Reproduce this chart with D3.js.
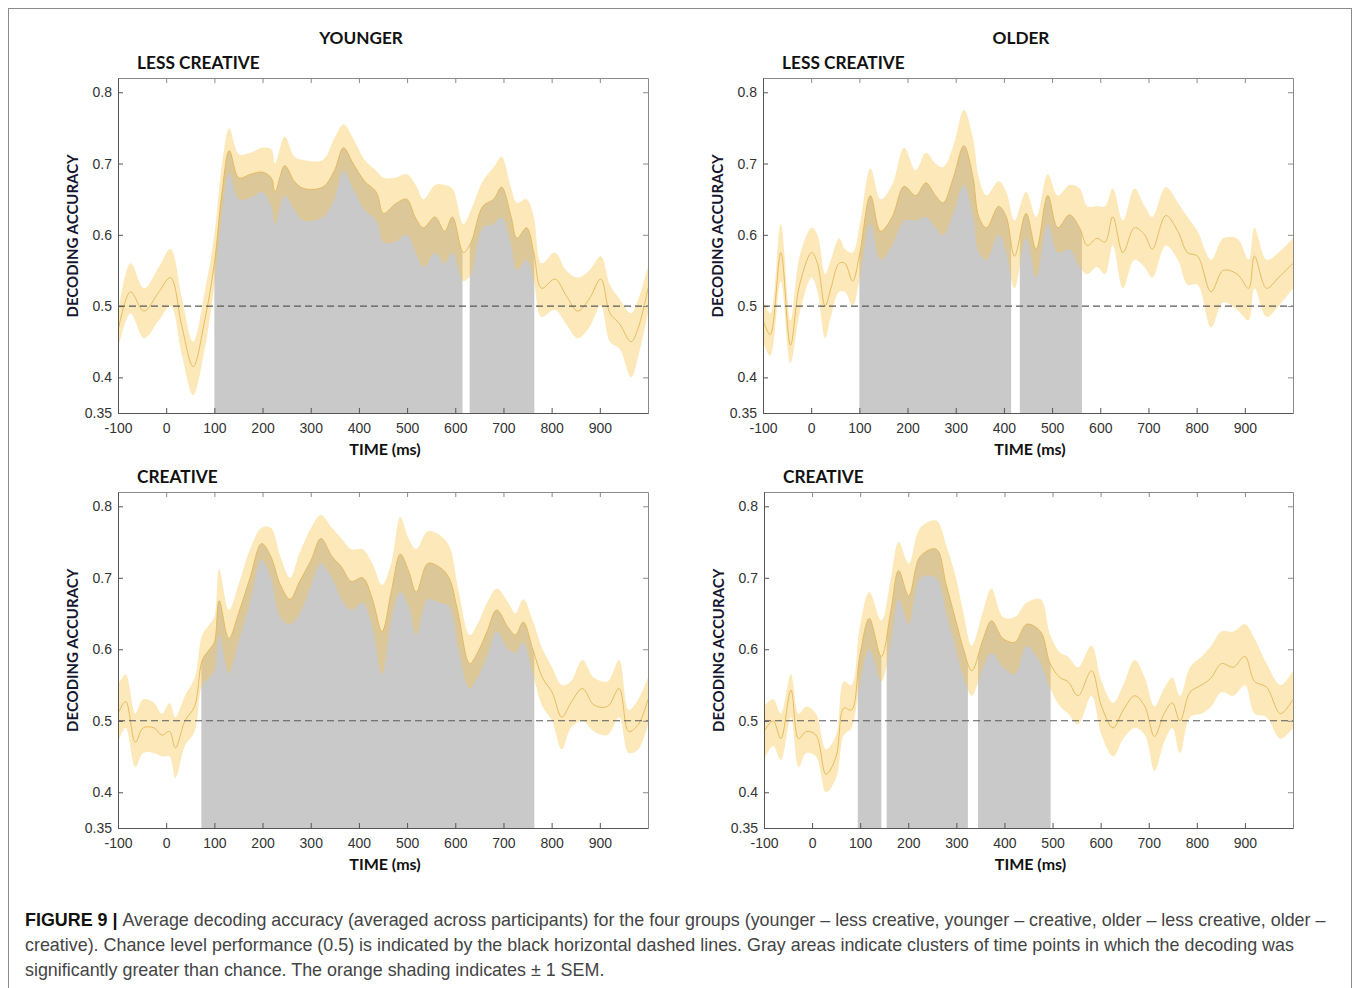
<!DOCTYPE html>
<html>
<head>
<meta charset="utf-8">
<script src="https://cdn.jsdelivr.net/npm/d3@7"></script>
<style>
  body { margin: 0; background: #fff; }
  text { font-family: "Liberation Sans", Arial, sans-serif; }
</style>
</head>
<body>
<script>
// each row: [time (ms), mean accuracy, mean - 1 SEM, mean + 1 SEM]
const youngLess = [
  [-100,0.465,0.44,0.49],[-74,0.52,0.49,0.56],[-46,0.493,0.455,0.525],[-15,0.52,0.48,0.555],
  [9,0.54,0.50,0.58],[33,0.47,0.43,0.51],[56,0.415,0.375,0.45],[80,0.48,0.44,0.52],
  [100,0.56,0.53,0.60],[116,0.66,0.63,0.70],[131,0.718,0.686,0.749],[151,0.68,0.65,0.713],
  [175,0.685,0.652,0.715],[199,0.688,0.66,0.722],[218,0.68,0.64,0.72],[226,0.66,0.615,0.70],
  [246,0.697,0.655,0.738],[266,0.675,0.635,0.71],[285,0.665,0.62,0.705],[325,0.667,0.625,0.705],
  [349,0.69,0.65,0.735],[368,0.722,0.69,0.755],[388,0.70,0.665,0.735],[412,0.675,0.635,0.705],
  [436,0.66,0.62,0.69],[451,0.63,0.59,0.68],[475,0.643,0.59,0.68],[499,0.65,0.60,0.685],
  [518,0.623,0.575,0.67],[534,0.61,0.555,0.65],[558,0.625,0.575,0.67],[578,0.605,0.56,0.67],
  [594,0.625,0.575,0.665],[617,0.575,0.535,0.615],[633,0.59,0.545,0.635],[657,0.64,0.61,0.675],
  [680,0.65,0.615,0.695],[696,0.667,0.625,0.71],[716,0.625,0.585,0.665],[728,0.595,0.55,0.645],
  [748,0.61,0.565,0.65],[763,0.575,0.535,0.625],[779,0.525,0.485,0.56],[807,0.538,0.495,0.575],
  [830,0.515,0.475,0.55],[854,0.493,0.455,0.54],[878,0.51,0.47,0.55],[902,0.538,0.50,0.57],
  [921,0.49,0.45,0.53],[941,0.475,0.44,0.51],[965,0.45,0.40,0.49],[980,0.47,0.43,0.51],
  [1000,0.525,0.49,0.555]
];
const oldLess = [
  [-100,0.48,0.45,0.51],[-85,0.46,0.43,0.49],[-63,0.575,0.535,0.615],[-43,0.445,0.42,0.48],
  [-24,0.53,0.49,0.57],[1,0.575,0.54,0.61],[13,0.56,0.52,0.60],[29,0.50,0.455,0.545],
  [41,0.525,0.485,0.565],[58,0.56,0.52,0.595],[70,0.56,0.52,0.58],[86,0.535,0.50,0.575],
  [101,0.575,0.54,0.615],[123,0.655,0.615,0.693],[144,0.605,0.565,0.65],[168,0.625,0.585,0.67],
  [193,0.668,0.62,0.722],[217,0.655,0.62,0.69],[238,0.673,0.625,0.715],[258,0.655,0.61,0.70],
  [274,0.645,0.60,0.695],[295,0.68,0.63,0.725],[317,0.725,0.67,0.775],[336,0.68,0.625,0.735],
  [348,0.625,0.575,0.68],[364,0.61,0.565,0.655],[389,0.64,0.60,0.675],[405,0.625,0.575,0.66],
  [422,0.57,0.525,0.62],[446,0.63,0.595,0.66],[467,0.58,0.54,0.625],[491,0.655,0.615,0.685],
  [512,0.61,0.575,0.655],[536,0.628,0.58,0.67],[557,0.61,0.555,0.665],[573,0.585,0.545,0.64],
  [593,0.595,0.555,0.64],[610,0.59,0.545,0.64],[626,0.625,0.585,0.665],[647,0.575,0.525,0.62],
  [671,0.61,0.565,0.665],[692,0.60,0.555,0.64],[708,0.58,0.54,0.625],[736,0.627,0.585,0.667],
  [761,0.605,0.565,0.645],[781,0.575,0.53,0.625],[802,0.57,0.53,0.605],[830,0.52,0.47,0.565],
  [855,0.55,0.505,0.595],[884,0.545,0.495,0.595],[908,0.525,0.48,0.565],[920,0.57,0.525,0.61],
  [945,0.525,0.485,0.565],[970,0.54,0.50,0.575],[1000,0.56,0.525,0.595]
];
const youngCreative = [
  [-100,0.51,0.47,0.55],[-84,0.527,0.49,0.565],[-64,0.47,0.435,0.51],[-48,0.49,0.455,0.53],
  [-25,0.49,0.455,0.525],[-9,0.48,0.45,0.51],[7,0.485,0.45,0.525],[19,0.462,0.42,0.505],
  [39,0.50,0.465,0.535],[59,0.52,0.485,0.56],[75,0.585,0.55,0.62],[90,0.60,0.56,0.635],
  [100,0.61,0.57,0.645],[110,0.668,0.62,0.712],[130,0.615,0.567,0.655],[150,0.65,0.61,0.69],
  [174,0.70,0.665,0.74],[198,0.748,0.725,0.77],[217,0.73,0.70,0.77],[237,0.69,0.645,0.73],
  [257,0.67,0.635,0.70],[277,0.695,0.65,0.735],[301,0.725,0.69,0.77],[321,0.755,0.72,0.788],
  [344,0.73,0.70,0.77],[364,0.715,0.67,0.755],[384,0.695,0.655,0.74],[408,0.70,0.665,0.74],
  [428,0.67,0.63,0.72],[448,0.625,0.565,0.69],[467,0.68,0.64,0.72],[486,0.733,0.68,0.785],
  [503,0.71,0.66,0.755],[519,0.68,0.62,0.74],[543,0.72,0.67,0.765],[567,0.715,0.665,0.76],
  [587,0.70,0.66,0.745],[606,0.65,0.60,0.685],[630,0.58,0.545,0.62],[646,0.595,0.56,0.635],
  [666,0.625,0.59,0.665],[686,0.655,0.625,0.685],[710,0.63,0.60,0.665],[725,0.62,0.595,0.65],
  [741,0.638,0.61,0.67],[761,0.60,0.565,0.64],[781,0.56,0.52,0.60],[801,0.54,0.50,0.575],
  [821,0.505,0.46,0.55],[840,0.525,0.49,0.555],[864,0.545,0.50,0.585],[888,0.522,0.485,0.56],
  [916,0.52,0.48,0.555],[940,0.545,0.505,0.585],[960,0.485,0.455,0.515],[980,0.495,0.46,0.53],
  [1000,0.53,0.495,0.56]
];
const oldCreative = [
  [-100,0.485,0.445,0.52],[-81,0.50,0.465,0.53],[-65,0.475,0.445,0.51],[-44,0.543,0.505,0.565],
  [-28,0.475,0.435,0.51],[-12,0.485,0.455,0.52],[8,0.48,0.45,0.51],[29,0.425,0.40,0.46],
  [50,0.45,0.42,0.48],[66,0.518,0.48,0.555],[82,0.515,0.49,0.55],[99,0.59,0.55,0.63],
  [119,0.643,0.60,0.68],[144,0.59,0.555,0.64],[164,0.655,0.61,0.70],[180,0.71,0.67,0.75],
  [201,0.675,0.635,0.72],[225,0.73,0.70,0.77],[258,0.74,0.70,0.78],[279,0.69,0.65,0.745],
  [299,0.64,0.60,0.70],[315,0.60,0.56,0.65],[332,0.57,0.535,0.605],[356,0.615,0.575,0.655],
  [373,0.64,0.595,0.685],[397,0.615,0.575,0.645],[422,0.61,0.565,0.645],[446,0.635,0.605,0.665],
  [475,0.625,0.58,0.67],[495,0.58,0.545,0.62],[516,0.56,0.52,0.595],[532,0.555,0.51,0.59],
  [553,0.535,0.495,0.575],[581,0.57,0.535,0.605],[602,0.52,0.48,0.555],[626,0.49,0.45,0.525],
  [647,0.515,0.475,0.55],[671,0.535,0.49,0.585],[692,0.52,0.48,0.56],[712,0.478,0.43,0.52],
  [732,0.51,0.47,0.545],[749,0.525,0.49,0.56],[765,0.50,0.455,0.535],[786,0.54,0.505,0.575],
  [810,0.55,0.51,0.59],[830,0.56,0.52,0.605],[851,0.58,0.54,0.625],[876,0.575,0.535,0.625],
  [900,0.59,0.55,0.635],[920,0.555,0.51,0.615],[945,0.547,0.505,0.58],[974,0.51,0.475,0.55],
  [1000,0.53,0.49,0.57]
];

// significant clusters [start, end] in ms
const youngLessClusters = [[100, 615], [630, 764]];
const oldLessClusters = [[100, 415], [433, 562]];
const youngCreativeClusters = [[73, 764]];
const oldCreativeClusters = [[95, 144], [155, 324], [345, 496]];

const xTicks = [-100, 0, 100, 200, 300, 400, 500, 600, 700, 800, 900];
const yTicks = [0.35, 0.4, 0.5, 0.6, 0.7, 0.8];
const chance = 0.5;

const width = 1357, height = 988;

const svg = d3.select("body").append("svg")
    .attr("width", width)
    .attr("height", height);

// outer figure border
svg.append("rect")
    .attr("x", 8.5).attr("y", 8.5)
    .attr("width", 1343).attr("height", 1000)
    .attr("fill", "none")
    .attr("stroke", "#8c8c8c");

const panels = [
  {data: youngLess, clusters: youngLessClusters, title: "LESS CREATIVE", x0: 118, x1: 648, y0: 78, y1: 413},
  {data: oldLess, clusters: oldLessClusters, title: "LESS CREATIVE", x0: 763, x1: 1293, y0: 78, y1: 413},
  {data: youngCreative, clusters: youngCreativeClusters, title: "CREATIVE", x0: 118, x1: 648, y0: 492, y1: 828},
  {data: oldCreative, clusters: oldCreativeClusters, title: "CREATIVE", x0: 764, x1: 1293, y0: 492, y1: 828}
];

const boldFont = "Lato, 'Open Sans', sans-serif";

function drawPanel(p, i) {
  const x = d3.scaleLinear().domain([-100, 1000]).range([p.x0, p.x1]);
  const y = d3.scaleLinear().domain([0.35, 0.82]).range([p.y1, p.y0]);
  const g = svg.append("g");

  const defs = svg.append("defs");
  defs.append("clipPath").attr("id", "plot" + i)
    .append("rect")
    .attr("x", p.x0).attr("y", p.y0)
    .attr("width", p.x1 - p.x0).attr("height", p.y1 - p.y0);
  const cc = defs.append("clipPath").attr("id", "clu" + i);
  cc.selectAll("rect").data(p.clusters).join("rect")
    .attr("x", d => x(d[0]))
    .attr("width", d => x(d[1]) - x(d[0]))
    .attr("y", p.y0).attr("height", p.y1 - p.y0);

  const curve = d3.curveCatmullRom.alpha(0.5);

  // gray cluster areas, up to the mean
  g.append("path")
    .datum(p.data)
    .attr("clip-path", `url(#clu${i})`)
    .attr("fill", "#c9c9c9")
    .attr("d", d3.area().curve(curve)
      .x(d => x(d[0])).y0(y(0.35)).y1(d => y(d[1])));

  const inner = g.append("g").attr("clip-path", `url(#plot${i})`);

  // SEM band
  inner.append("path")
    .datum(p.data)
    .attr("fill", "rgb(248,197,80)")
    .attr("fill-opacity", 0.4)
    .attr("d", d3.area().curve(curve)
      .x(d => x(d[0])).y0(d => y(d[2])).y1(d => y(d[3])));

  // mean
  inner.append("path")
    .datum(p.data)
    .attr("fill", "none")
    .attr("stroke", "#e4b756")
    .attr("stroke-width", 0.9)
    .attr("d", d3.line().curve(curve).x(d => x(d[0])).y(d => y(d[1])));

  // chance level
  g.append("line")
    .attr("x1", p.x0).attr("x2", p.x1)
    .attr("y1", y(chance)).attr("y2", y(chance))
    .attr("stroke", "#5a5a5a")
    .attr("stroke-width", 1.2)
    .attr("stroke-dasharray", "7,4");

  // axes (ticks inward like matlab)
  const axStyle = (sel, col) => {
    sel.select(".domain").attr("stroke", col);
    sel.selectAll(".tick line").attr("stroke", col);
    sel.selectAll("text")
      .attr("fill", "#333")
      .style("font-size", "14px")
      .style("font-family", "'Liberation Sans', Arial, sans-serif");
  };

  g.append("g")
    .attr("transform", `translate(0,${p.y0})`)
    .call(d3.axisTop(x).tickValues(xTicks).tickSize(-5).tickSizeOuter(0).tickFormat(""))
    .call(s => axStyle(s, "#8a8a8a"));
  g.append("g")
    .attr("transform", `translate(${p.x1},0)`)
    .call(d3.axisRight(y).tickValues(yTicks.slice(1)).tickSize(-5).tickSizeOuter(0).tickFormat(""))
    .call(s => axStyle(s, "#8a8a8a"));
  g.append("g")
    .attr("transform", `translate(0,${p.y1})`)
    .call(d3.axisBottom(x).tickValues(xTicks).tickSize(-5).tickSizeOuter(0).tickPadding(10)
      .tickFormat(d => String(d)))
    .call(s => axStyle(s, "#555"));
  g.append("g")
    .attr("transform", `translate(${p.x0},0)`)
    .call(d3.axisLeft(y).tickValues(yTicks).tickSize(-5).tickSizeOuter(0).tickPadding(6)
      .tickFormat(d => String(d)))
    .call(s => axStyle(s, "#555"));

  // labels
  g.append("text")
    .attr("x", p.x0 + 19).attr("y", p.y0 - 9)
    .style("font-family", boldFont)
    .style("font-weight", "bold").style("font-size", "17.3px")
    .attr("fill", "#111")
    .text(p.title);

  g.append("text")
    .attr("x", (p.x0 + p.x1) / 2 + 2).attr("y", p.y1 + 42)
    .attr("text-anchor", "middle")
    .style("font-family", boldFont)
    .style("font-weight", "bold").style("font-size", "16px")
    .attr("fill", "#111")
    .text("TIME (ms)");

  g.append("text")
    .attr("transform", `translate(${p.x0 - 40},${y(0.6) + 1}) rotate(-90)`)
    .attr("text-anchor", "middle")
    .style("font-family", boldFont)
    .style("font-weight", "bold").style("font-size", "15px")
    .attr("fill", "#161630")
    .text("DECODING ACCURACY");
}

panels.forEach(drawPanel);

// column headers
[["YOUNGER", 361], ["OLDER", 1021]].forEach(([t, cx]) => {
  svg.append("text")
    .attr("x", cx).attr("y", 44)
    .attr("text-anchor", "middle")
    .style("font-family", boldFont)
    .style("font-weight", "bold").style("font-size", "17.2px")
    .attr("fill", "#111")
    .text(t);
});

// caption
const capLines = [
  [["FIGURE 9 | ", true], ["Average decoding accuracy (averaged across participants) for the four groups (younger \u2013 less creative, younger \u2013 creative, older \u2013 less creative, older \u2013", false]],
  [["creative). Chance level performance (0.5) is indicated by the black horizontal dashed lines. Gray areas indicate clusters of time points in which the decoding was", false]],
  [["significantly greater than chance. The orange shading indicates \u00b1 1 SEM.", false]]
];
const cap = svg.append("g");
capLines.forEach((line, k) => {
  const t = cap.append("text")
    .attr("x", 25).attr("y", 926 + k * 25)
    .style("font-size", "17.9px")
    .attr("fill", "#444");
  line.forEach(([s, b]) => {
    t.append("tspan")
      .attr("font-weight", b ? "bold" : "normal")
      .attr("fill", b ? "#111" : "#444")
      .text(s);
  });
});
</script>
</body>
</html>
